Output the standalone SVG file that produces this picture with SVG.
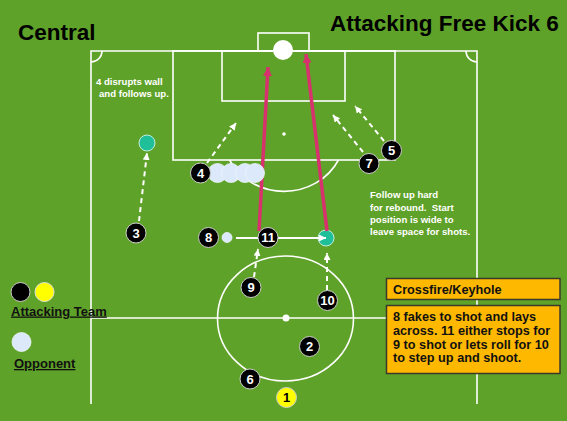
<svg xmlns="http://www.w3.org/2000/svg" width="567" height="421" viewBox="0 0 567 421">
<defs>
<style>
.fl{fill:none;stroke:#fff;stroke-width:1.6}
.pl circle{fill:#000;stroke:#ccc;stroke-width:1}
.pl text{fill:#fff;font-family:"Liberation Sans",Arial,sans-serif;font-weight:bold;font-size:13px;text-anchor:middle}
.op{fill:#dbe9fa;stroke:#eef4fc;stroke-width:0.8}
.tg{fill:#1fbf9a;stroke:#bfeede;stroke-width:1}
.ds{fill:none;stroke:#fff;stroke-width:2;stroke-dasharray:5,4;marker-end:url(#wa)}
.sh{fill:none;stroke:#d8326e;stroke-width:3.5;marker-end:url(#pa)}
.note{fill:#fff;font-family:"Liberation Sans",Arial,sans-serif;font-weight:bold;font-size:9.6px}
.bx{fill:#ffb800;stroke:#3a3a2a;stroke-width:1.5}
.bt{fill:#111;font-family:"Liberation Sans",Arial,sans-serif;font-weight:bold;font-size:12.7px}
.lg{fill:#111;font-family:"Liberation Sans",Arial,sans-serif;font-weight:bold;font-size:13px;text-decoration:underline}
.ti{fill:#000;font-family:"Liberation Sans",Arial,sans-serif;font-weight:bold;font-size:22.5px}
</style>
<marker id="wa" markerUnits="userSpaceOnUse" markerWidth="8" markerHeight="8" refX="7" refY="3.5" orient="auto"><path d="M0,0 L7,3.5 L0,7 z" fill="#fff"/></marker>
<marker id="pa" markerUnits="userSpaceOnUse" markerWidth="11" markerHeight="10" refX="9" refY="4.5" orient="auto"><path d="M0,0 L9,4.5 L0,9 z" fill="#d8326e"/></marker>
</defs>
<rect width="567" height="421" fill="#5fa229"/>
<g id="field">
<path class="fl" d="M91,404 V51 H477 V404"/>
<line class="fl" x1="91" y1="318" x2="477" y2="318"/>
<rect class="fl" x="173" y="51" width="222" height="109"/>
<rect class="fl" x="222" y="51" width="123" height="50"/>
<rect class="fl" x="258" y="33" width="51" height="18"/>
<path class="fl" d="M102,51 A11,11 0 0 1 91,62"/>
<path class="fl" d="M466,51 A11,11 0 0 0 477,62"/>
<path class="fl" d="M229.5,160 A61,57 0 0 0 338.5,160"/>
<ellipse class="fl" cx="285.5" cy="318.5" rx="68" ry="62.5"/>
<circle cx="286" cy="318" r="3.5" fill="#fff"/>
<circle cx="284" cy="134" r="1.8" fill="#fff"/>
<circle id="goal-ball" cx="283" cy="50" r="10" fill="#fff"/>
</g>
<g id="targets">
<circle class="tg" cx="147" cy="143" r="8"/>
<circle class="tg" cx="326" cy="238" r="8"/>
</g>
<g id="connectors">
<line class="ds" x1="139" y1="221" x2="147" y2="153"/>
<line class="ds" x1="207" y1="163" x2="236" y2="123"/>
<line class="ds" x1="363" y1="152" x2="333" y2="115"/>
<line class="ds" x1="384" y1="141" x2="355" y2="106"/>
<line class="ds" x1="254" y1="277" x2="258" y2="249"/>
<line class="ds" x1="327" y1="290" x2="327" y2="253"/>
<line x1="236" y1="238" x2="326" y2="238" stroke="#fff" stroke-width="2" marker-end="url(#wa)"/>
<line class="sh" x1="259" y1="231" x2="268" y2="67"/>
<line class="sh" x1="327" y1="231" x2="306" y2="54"/>
</g>
<g id="opponents">
<circle class="op" cx="217.5" cy="173" r="9.5"/>
<circle class="op" cx="231" cy="173" r="9.5"/>
<circle class="op" cx="245" cy="173" r="9.5"/>
<circle class="op" cx="255" cy="173" r="9.5"/>
<circle class="op" cx="227" cy="237.5" r="5"/>
</g>
<g id="p4" class="pl"><circle cx="200.5" cy="173" r="10"/><text x="200.5" y="177.5">4</text></g>
<g id="p3" class="pl"><circle cx="136" cy="233" r="10"/><text x="136" y="237.5">3</text></g>
<g id="p8" class="pl"><circle cx="208.5" cy="237.5" r="10"/><text x="208.5" y="242">8</text></g>
<g id="p11" class="pl"><circle cx="268" cy="237.5" r="10"/><text x="268" y="242">11</text></g>
<g id="p9" class="pl"><circle cx="251" cy="287.5" r="10"/><text x="251" y="292">9</text></g>
<g id="p10" class="pl"><circle cx="327.5" cy="300.5" r="10"/><text x="327.5" y="305">10</text></g>
<g id="p2" class="pl"><circle cx="309.5" cy="346.5" r="10"/><text x="309.5" y="351">2</text></g>
<g id="p6" class="pl"><circle cx="250" cy="379" r="10"/><text x="250" y="383.5">6</text></g>
<g id="p7" class="pl"><circle cx="369" cy="163.5" r="10"/><text x="369" y="168">7</text></g>
<g id="p5" class="pl"><circle cx="391.5" cy="150.5" r="10"/><text x="391.5" y="155">5</text></g>
<g id="p1" class="pl"><circle cx="286.5" cy="397.5" r="10" style="fill:#ffff00"/><text x="286.5" y="402" style="fill:#000">1</text></g>
<g id="titles">
<text class="ti" x="18" y="39.5">Central</text>
<text class="ti" x="330" y="31">Attacking Free Kick 6</text>
</g>
<g id="notes">
<text class="note" x="96" y="85">4 disrupts wall</text>
<text class="note" x="99" y="97">and follows up.</text>
<text class="note" x="370" y="198">Follow up hard</text>
<text class="note" x="370" y="210.5">for rebound.&#160; Start</text>
<text class="note" x="370" y="222.5">position is wide to</text>
<text class="note" x="370" y="234.5">leave space for shots.</text>
</g>
<g id="legend">
<circle cx="20.5" cy="292" r="9.5" fill="#000" stroke="#ccc" stroke-width="1"/>
<circle cx="44.5" cy="292" r="9.5" fill="#ffff00" stroke="#ddd" stroke-width="1"/>
<text class="lg" x="11" y="315.5">Attacking Team</text>
<circle cx="21.5" cy="342" r="9.5" fill="#dbe9fa" stroke="#eef4fc" stroke-width="0.8"/>
<text class="lg" x="14" y="368">Opponent</text>
</g>
<g id="box-title">
<rect class="bx" x="386.5" y="278.5" width="173.5" height="21"/>
<text class="bt" x="393" y="294">Crossfire/Keyhole</text>
</g>
<g id="box-desc">
<rect class="bx" x="386.5" y="305.5" width="173.5" height="68"/>
<text class="bt" x="393" y="321">8 fakes to shot and lays</text>
<text class="bt" x="393" y="334.5">across. 11 either stops for</text>
<text class="bt" x="393" y="348.5">9 to shot or lets roll for 10</text>
<text class="bt" x="393" y="362">to step up and shoot.</text>
</g>
</svg>
